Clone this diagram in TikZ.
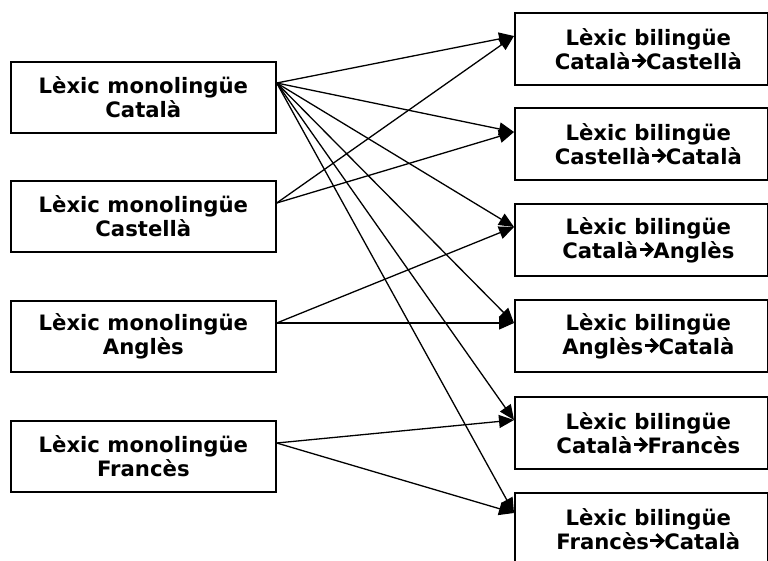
\documentclass[tikz,border=0pt]{standalone}
\usepackage{fontspec}
\setmainfont{DejaVu Sans}
\usetikzlibrary{arrows.meta}
\tikzset{
  box/.style={draw=black, line width=1.7pt, rectangle, inner sep=0pt, anchor=north west},
  lbox/.style={box, minimum width=265pt, minimum height=71pt,
    align=center, font=\fontsize{21.2}{24}\selectfont\bfseries},
  rbox/.style={box, minimum width=253pt, minimum height=72pt},
  rtext/.style={align=center, font=\fontsize{21.2}{24}\selectfont\bfseries, inner sep=0pt},
  conn/.style={line width=1.3pt, -{Triangle[length=15pt,width=13pt]}}
}
\newcommand{\arr}{\tikz[x=1pt,y=1pt,baseline=-8.5pt,line width=2.8pt]{%
  \draw[line cap=butt] (0,0) -- (12,0);
  \draw[line join=miter,line cap=butt] (6,6.5) -- (12.5,0) -- (6,-6.5);}}
\begin{document}
\begin{tikzpicture}[x=1pt,y=-1pt]
\useasboundingbox (0,0) rectangle (768,560);
\clip (0,0) rectangle (768,560);
% left boxes
\node[lbox] (L1) at (10,61)  {Lèxic monolingüe\\Català};
\node[lbox] (L2) at (10,180) {Lèxic monolingüe\\Castellà};
\node[lbox] (L3) at (10,300) {Lèxic monolingüe\\Anglès};
\node[lbox] (L4) at (10,420) {Lèxic monolingüe\\Francès};
% right boxes
\node[rbox] (R1) at (514,12)  {};
\node[rbox] (R2) at (514,107) {};
\node[rbox] (R3) at (514,203) {};
\node[rbox] (R4) at (514,299) {};
\node[rbox] (R5) at (514,396) {};
\node[rbox] (R6) at (514,492) {};
\node[rtext] (T1) at ([xshift=7pt]R1.center) {Lèxic bilingüe\\Català\arr Castellà};
\node[rtext] (T2) at ([xshift=7pt]R2.center) {Lèxic bilingüe\\Castellà\arr Català};
\node[rtext] (T3) at ([xshift=7pt]R3.center) {Lèxic bilingüe\\Català\arr Anglès};
\node[rtext] (T4) at ([xshift=7pt]R4.center) {Lèxic bilingüe\\Anglès\arr Català};
\node[rtext] (T5) at ([xshift=7pt]R5.center) {Lèxic bilingüe\\Català\arr Francès};
\node[rtext] (T6) at ([xshift=7pt]R6.center) {Lèxic bilingüe\\Francès\arr Català};
% connector end points
\coordinate (s1) at ([yshift=-22pt]L1.north east);
\coordinate (s2) at ([yshift=-23pt]L2.north east);
\coordinate (s3) at ([yshift=-23pt]L3.north east);
\coordinate (s4) at ([yshift=-23pt]L4.north east);
\coordinate (t1) at ([yshift=-24pt]R1.north west);
\coordinate (t2) at ([yshift=-25pt]R2.north west);
\coordinate (t3) at ([yshift=-24pt]R3.north west);
\coordinate (t4) at ([yshift=-24pt]R4.north west);
\coordinate (t5) at ([yshift=-24pt]R5.north west);
\coordinate (t6) at ([yshift=-21pt]R6.north west);
% connectors
\draw[conn] (s1) -- (t1);
\draw[conn] (s1) -- (t2);
\draw[conn] (s1) -- (t3);
\draw[conn] (s1) -- (t4);
\draw[conn] (s1) -- (t5);
\draw[conn] (s1) -- (t6);
\draw[conn] (s2) -- (t1);
\draw[conn] (s2) -- (t2);
\draw[conn] (s3) -- (t3);
\draw[conn] (s3) -- (t4);
\draw[conn] (s4) -- (t5);
\draw[conn] (s4) -- (t6);
\end{tikzpicture}
\end{document}
